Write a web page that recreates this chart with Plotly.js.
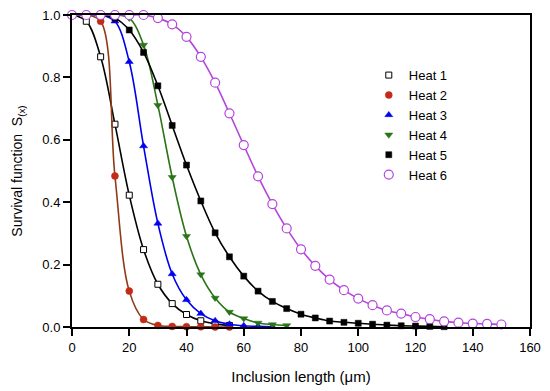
<!DOCTYPE html>
<html>
<head>
<meta charset="utf-8">
<script src="https://cdn.plot.ly/plotly-3.0.1.min.js"></script>
<style>html,body{margin:0;padding:0;background:#fff;}#chart{width:550px;height:391px;}</style>
</head>
<body>
<div id="chart"></div>
<script>
// Inclusion length (µm) sample positions per series
const xHeat1 = [0,5,10,15,20,25,30,35,40,45,50,55];
const yHeat1 = [1,0.98,0.866,0.65,0.4225,0.248,0.137,0.075,0.04,0.02,0.01,0.005];

const xHeat2 = [0,5,10,15,20,25,30,35,40,45,50,55];
const yHeat2 = [1,1,0.98,0.484,0.115,0.024,0.005,0.002,0.001,0.0005,0.0002,0.0001];

const xHeat3 = [0,5,10,15,20,25,30,35,40,45,50,55,60,65,70];
const yHeat3 = [1,1,1,0.98,0.85,0.58,0.332,0.17,0.087,0.043,0.02,0.009,0.004,0.002,0.001];

const xHeat4 = [0,5,10,15,20,25,30,35,40,45,50,55,60,65,70,75];
const yHeat4 = [1,1,1,1,0.99,0.904,0.711,0.48,0.291,0.168,0.093,0.048,0.027,0.013,0.008,0.005];

const xHeat5 = [0,5,10,15,20,25,30,35,40,45,50,55,60,65,70,75,80,85,90,95,100,105,110,115,120,125,130];
const yHeat5 = [1,1,1,0.99,0.952,0.88,0.773,0.646,0.519,0.404,0.302,0.225,0.163,0.115,0.082,0.059,0.041,0.029,0.019,0.015,0.012,0.009,0.006,0.004,0.003,0.002,0.001];

const xHeat6 = [0,5,10,15,20,25,30,35,40,45,50,55,60,65,70,75,80,85,90,95,100,105,110,115,120,125,130,135,140,145,150];
const yHeat6 = [1,1,1,1,1,1,0.99,0.97,0.93,0.866,0.783,0.685,0.583,0.483,0.394,0.316,0.249,0.196,0.152,0.118,0.091,0.070,0.053,0.043,0.032,0.025,0.018,0.014,0.011,0.010,0.008];

const seriesNames = ['Heat 1','Heat 2','Heat 3','Heat 4','Heat 5','Heat 6'];
const xTicks = [0,20,40,60,80,100,120,140,160];
const yTicks = [0,0.2,0.4,0.6,0.8,1.0];
const yTickText = ['0.0','0.2','0.4','0.6','0.8','1.0'];

const FONT = 'Arial, "Liberation Sans", sans-serif';

const styles = [
  {line: '#000000', sym: 'square',        mc: '#000000', size: 6, fill: '#ffffff', lw: 1},
  {line: '#8f3a16', sym: 'circle',        mc: '#c42a18', size: 7, fill: '#c42a18', lw: 0.5},
  {line: '#0000ee', sym: 'triangle-up',   mc: '#0000ee', size: 7, fill: '#0000ee', lw: 0.5},
  {line: '#2a7418', sym: 'triangle-down', mc: '#2a7418', size: 7, fill: '#2a7418', lw: 0.5},
  {line: '#000000', sym: 'square',        mc: '#000000', size: 6, fill: '#000000', lw: 0.5},
  {line: '#b444dc', sym: 'circle',        mc: '#b444dc', size: 9, fill: '#ffffff', lw: 1.2}
];
const xs = [xHeat1, xHeat2, xHeat3, xHeat4, xHeat5, xHeat6];
const ys = [yHeat1, yHeat2, yHeat3, yHeat4, yHeat5, yHeat6];

const data = [];
// curves with markers (not in legend)
for (let i = 0; i < 6; i++) {
  const s = styles[i];
  data.push({
    x: xs[i], y: ys[i], name: seriesNames[i], type: 'scatter', mode: 'lines+markers',
    cliponaxis: false, showlegend: false, legendgroup: 'g' + i,
    line: {color: s.line, width: 1.6, shape: 'spline', smoothing: 1},
    marker: {symbol: s.sym, size: s.size, color: s.fill, line: {color: s.mc, width: s.lw}}
  });
}
// legend entries: symbol only, as in the reference
for (let i = 0; i < 6; i++) {
  const s = styles[i];
  data.push({
    x: [null], y: [null], name: seriesNames[i], type: 'scatter', mode: 'markers',
    showlegend: true, legendgroup: 'g' + i,
    marker: {symbol: s.sym, size: s.size, color: s.fill, line: {color: s.mc, width: s.lw}}
  });
}

const layout = {
  width: 550, height: 391,
  margin: {l: 72, r: 20, t: 15, b: 64},
  paper_bgcolor: '#ffffff', plot_bgcolor: '#ffffff',
  font: {family: FONT, size: 13, color: '#000'},
  showlegend: true,
  legend: {
    x: 0.648, xanchor: 'left', y: 0.647, yanchor: 'middle',
    bgcolor: 'rgba(0,0,0,0)', borderwidth: 0,
    font: {family: FONT, size: 13, color: '#000'},
    itemsizing: 'trace', tracegroupgap: 0
  },
  xaxis: {
    range: [0, 160], tickvals: xTicks, ticktext: xTicks.map(String),
    showgrid: false, zeroline: false,
    showline: true, linewidth: 2, linecolor: '#000', mirror: true,
    ticks: 'outside', ticklen: 7, tickwidth: 2, tickcolor: '#000',
    tickfont: {family: FONT, size: 13, color: '#000'},
    title: {text: 'Inclusion length (\u03bcm)', font: {family: FONT, size: 15, color: '#000'}, standoff: 18}
  },
  yaxis: {
    range: [0, 1], tickvals: yTicks, ticktext: yTickText,
    showgrid: false, zeroline: false,
    showline: true, linewidth: 2, linecolor: '#000', mirror: true,
    ticks: 'outside', ticklen: 7, tickwidth: 2, tickcolor: '#000',
    tickfont: {family: FONT, size: 13, color: '#000'},
    title: {text: 'Survival function  S<sub>(x)</sub>', font: {family: FONT, size: 14, color: '#000'}, standoff: 16}
  }
};

Plotly.newPlot('chart', data, layout, {displayModeBar: false, staticPlot: true});
</script>
</body>
</html>
